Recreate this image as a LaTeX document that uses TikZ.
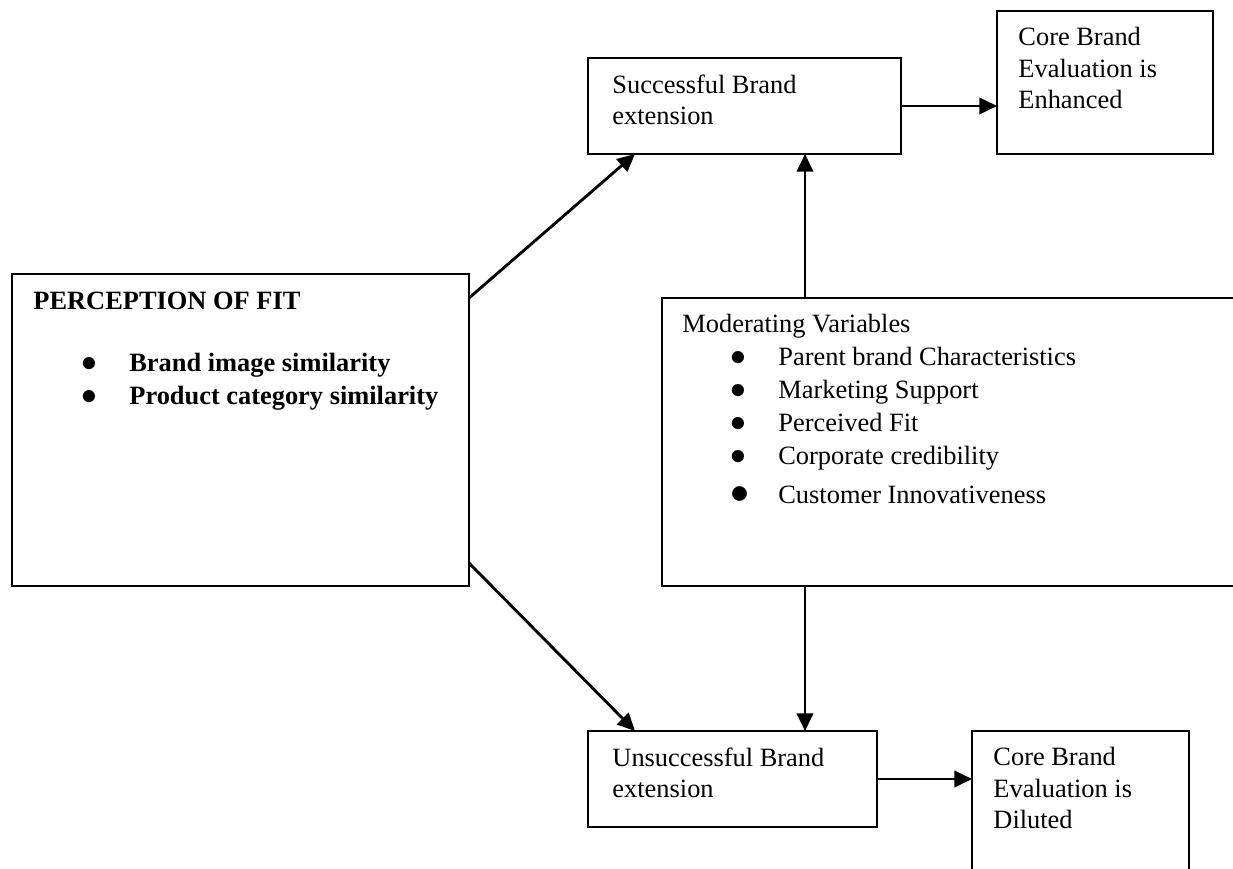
\documentclass[tikz,border=0pt]{standalone}
\usepackage{fontspec}
\setmainfont{Liberation Serif}
\usetikzlibrary{arrows.meta,calc}

\newcommand{\px}{0.4545pt}
\newcommand{\itembox}[2][13.5]{\hspace*{21.8pt}\makebox[21.8pt][l]{\fontsize{#1}{#1}\selectfont\smash{$\bullet$}}#2}

\begin{document}
\begin{tikzpicture}[x=\px, y=-\px,
    box/.style={draw, line width=1.1pt, inner sep=0pt, outer sep=0pt, anchor=north west},
    boxtext/.style={anchor=north west, inner sep=0pt, align=left, font=\fontsize{12}{14.3}\selectfont},
    listtext/.style={boxtext, font=\fontsize{12}{15}\selectfont},
    arr/.style={-{Triangle[length=8pt,width=7.4pt]}, line width=1.3pt}]
    \useasboundingbox (0,0) rectangle (1233,868);
    \clip (0,0) rectangle (1233,868);

    % Boxes
    \node[box, minimum width=457*\px, minimum height=312*\px] (fit) at (12,274) {};
    \node[box, minimum width=313*\px, minimum height=96*\px] (succ) at (588,58) {};
    \node[box, minimum width=216*\px, minimum height=143*\px] (enh) at (997,11) {};
    \node[box, minimum width=598*\px, minimum height=288*\px] (modv) at (662,298) {};
    \node[box, minimum width=289*\px, minimum height=96*\px] (unsucc) at (588,731) {};
    \node[box, minimum width=217*\px, minimum height=159*\px] (dil) at (972,731) {};

    % Box texts
    \node[listtext] (fittext) at ($(fit.north west)+(21,18)$)
        {\textbf{PERCEPTION OF FIT}\\[13.2pt]
         \itembox{\textbf{Brand image similarity}}\\
         \itembox{\textbf{Product category similarity}}};
    \node[boxtext] (succtext) at ($(succ.north west)+(24,16)$) {Successful Brand\\extension};
    \node[boxtext] (enhtext) at ($(enh.north west)+(21,16)$) {Core Brand\\Evaluation is\\Enhanced};
    \node[listtext] (modtext) at ($(modv.north west)+(20,16)$)
        {Moderating Variables\\
         \itembox{Parent brand Characteristics}\\
         \itembox{Marketing Support}\\
         \itembox{Perceived Fit}\\
         \itembox{Corporate credibility}\\[2.7pt]
         \itembox[16]{Customer Innovativeness}};
    \node[boxtext] (unsucctext) at ($(unsucc.north west)+(24,16)$) {Unsuccessful Brand\\extension};
    \node[boxtext] (diltext) at ($(dil.north west)+(21,16)$) {Core Brand\\Evaluation is\\Diluted};

    % Arrows from the fit box
    \draw[arr] ($(fit.north east)+(0,24)$) -- ($(succ.south west)+(47,0)$);
    \draw[arr] ($(fit.south east)+(0,-23)$) -- ($(unsucc.north west)+(47,0)$);

    % Arrows from the moderating variables
    \coordinate (mtop) at ($(modv.north west)+(143,0)$);
    \coordinate (mbot) at ($(modv.south west)+(143,0)$);
    \draw[arr] (mtop) -- (mtop |- succ.south);
    \draw[arr] (mbot) -- (mbot |- unsucc.north);

    % Arrows to the core brand evaluation
    \draw[arr] (succ.east) -- (succ.east -| enh.west);
    \draw[arr] (unsucc.east) -- (unsucc.east -| dil.west);
\end{tikzpicture}
\end{document}
